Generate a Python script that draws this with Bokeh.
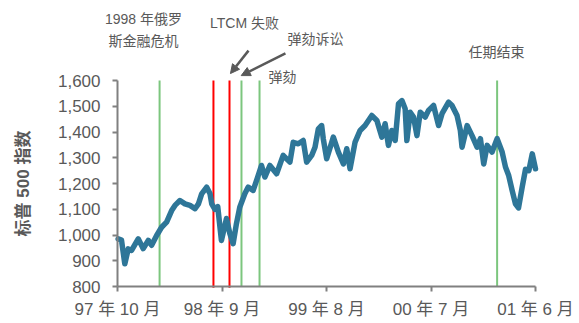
from bokeh.plotting import figure
from bokeh.models import Range1d, FixedTicker, NumeralTickFormatter, Label, Arrow, NormalHead
from bokeh.embed import file_html
from bokeh.resources import INLINE

# months since start of Oct 1997
months = [0.07, 0.42, 0.77, 1.13, 1.48, 2.18, 2.71, 3.24, 3.59, 4.12, 4.64, 5.17, 5.70, 6.05,
          6.57, 7.10, 7.63, 8.16, 8.52, 8.86, 9.39, 9.74, 9.92, 10.24, 10.55, 10.94, 11.47,
          11.82, 12.17, 12.52, 12.87, 13.40, 13.75, 14.28, 14.64, 15.16, 15.51, 16.04, 16.75,
          17.44, 18.15, 18.50, 19.03, 19.55, 19.91, 20.44, 20.79, 21.14, 21.49, 21.66, 22.02,
          22.72, 23.25, 23.78, 24.13, 24.48, 25.01, 25.54, 26.06, 26.77, 27.30, 27.83, 28.17,
          28.52, 28.88, 29.23, 29.58, 29.94, 30.28, 30.46, 30.81, 31.16, 31.52, 31.87, 32.39,
          32.74, 33.27, 33.80, 34.16, 34.85, 35.21, 35.74, 36.09, 36.27, 36.80, 37.32, 37.85,
          38.20, 38.55, 38.91, 39.43, 39.96, 40.49, 40.84, 41.18, 41.54, 41.89, 42.21, 42.60,
          42.95, 43.30, 43.66, 44.00]
sp500 = [985, 980, 888, 946, 940, 985, 947, 979, 960, 998, 1030, 1050, 1095, 1115,
         1134, 1121, 1115, 1102, 1121, 1160, 1186, 1160, 1121, 1100, 1110, 979, 1064,
         1006, 966, 1044, 1108, 1160, 1186, 1173, 1212, 1270, 1225, 1270, 1238,
         1309, 1283, 1360, 1354, 1367, 1283, 1309, 1341, 1412, 1425, 1374, 1296,
         1380, 1322, 1276, 1335, 1257, 1361, 1406, 1425, 1464, 1445, 1380, 1432,
         1348, 1406, 1367, 1510, 1522, 1490, 1367, 1477, 1458, 1386, 1477, 1458,
         1484, 1503, 1425, 1471, 1516, 1503, 1464, 1406, 1341, 1425, 1386, 1341,
         1374, 1276, 1348, 1322, 1374, 1322, 1264, 1231, 1173, 1121, 1105, 1186,
         1255, 1250, 1315, 1257]

green_events = [4.43, 13.05, 14.95, 39.96]
red_events = [10.10, 11.79]

tick_pos = [0, 11, 22, 33, 44]
tick_labels = ["97 年 10 月", "98 年 9 月", "99 年 8 月", "00 年 7 月", "01 年 6 月"]
y_ticks = [800, 900, 1000, 1100, 1200, 1300, 1400, 1500, 1600]

FONT = "Liberation Sans, Noto Sans CJK SC"
GRAY = "#595959"

# the frame covers the whole canvas so the notes and axis labels stay inside it;
# both axes are drawn at fixed data locations and limited with bounds
PX_PER_MONTH = 418 / 44
X_START = -117 / PX_PER_MONTH
X_END = 44 + (579 - 535) / PX_PER_MONTH
PER_PX = 800 / 206
Y_TOP = 1600 + 80 * PER_PX
Y_BOTTOM = 800 - (323 - 286) * PER_PX

p = figure(width=579, height=323, output_backend="svg", toolbar_location=None, title=None,
           x_range=Range1d(X_START, X_END), y_range=Range1d(Y_BOTTOM, Y_TOP),
           min_border_left=0, min_border_right=0, min_border_top=0, min_border_bottom=0)
p.outline_line_color = None
p.grid.visible = False
p.background_fill_color = "white"

p.segment(x0=green_events, x1=green_events, y0=[800]*len(green_events), y1=[1600]*len(green_events),
          line_color="#7CC67E", line_width=2)
p.segment(x0=red_events, x1=red_events, y0=[795]*len(red_events), y1=[1600]*len(red_events),
          line_color="#FF0000", line_width=2)

p.line(months, sp500, line_color="#2E7698", line_width=5.5, line_join="round", line_cap="round")

for ax in (p.xaxis[0], p.yaxis[0]):
    ax.axis_line_color = "#808080"
    ax.axis_line_width = 2
    ax.major_tick_line_color = "#808080"
    ax.major_tick_line_width = 2
    ax.major_tick_out = 5
    ax.major_tick_in = 0
    ax.minor_tick_line_color = None
    ax.major_label_text_font = FONT
    ax.major_label_text_font_size = "17px"
    ax.major_label_text_color = GRAY

p.xaxis.ticker = FixedTicker(ticks=tick_pos)
p.xaxis.bounds = (0, 44)
p.xaxis.fixed_location = 800
p.xaxis.major_label_overrides = {t: l for t, l in zip(tick_pos, tick_labels)}
p.xaxis.major_label_standoff = 8

p.yaxis.ticker = FixedTicker(ticks=y_ticks)
p.yaxis.bounds = (800, 1600)
p.yaxis.fixed_location = 0
p.yaxis.formatter = NumeralTickFormatter(format="0,0")
p.yaxis.major_label_standoff = 12
p.yaxis.axis_label = "标普 500 指数"
p.yaxis.axis_label_text_font = FONT
p.yaxis.axis_label_text_font_size = "17px"
p.yaxis.axis_label_text_font_style = "bold"
p.yaxis.axis_label_text_color = GRAY
p.yaxis.axis_label_standoff = 22

def lab(x, y, text, align="center"):
    p.add_layout(Label(x=x, y=y, text=text, text_font=FONT, text_font_size="14px",
                       text_color=GRAY, text_align=align, text_baseline="middle"))

lab(2.74, 1837, "1998 年俄罗")
lab(2.74, 1755, "斯金融危机")
lab(13.37, 1825, "LTCM 失败")
lab(17.9, 1763, "弹劾诉讼", "left")
lab(15.9, 1612, "弹劾", "left")
lab(39.9, 1709, "任期结束")

head = dict(size=9, fill_color=GRAY, line_color=GRAY)
p.add_layout(Arrow(end=NormalHead(**head), x_start=13.79, y_start=1716, x_end=11.89, y_end=1627,
                   line_color=GRAY, line_width=2.5))
p.add_layout(Arrow(end=NormalHead(**head), x_start=17.68, y_start=1705, x_end=13.02, y_end=1619,
                   line_color=GRAY, line_width=2.5))

open("out.html", "w").write(file_html(p, INLINE))
